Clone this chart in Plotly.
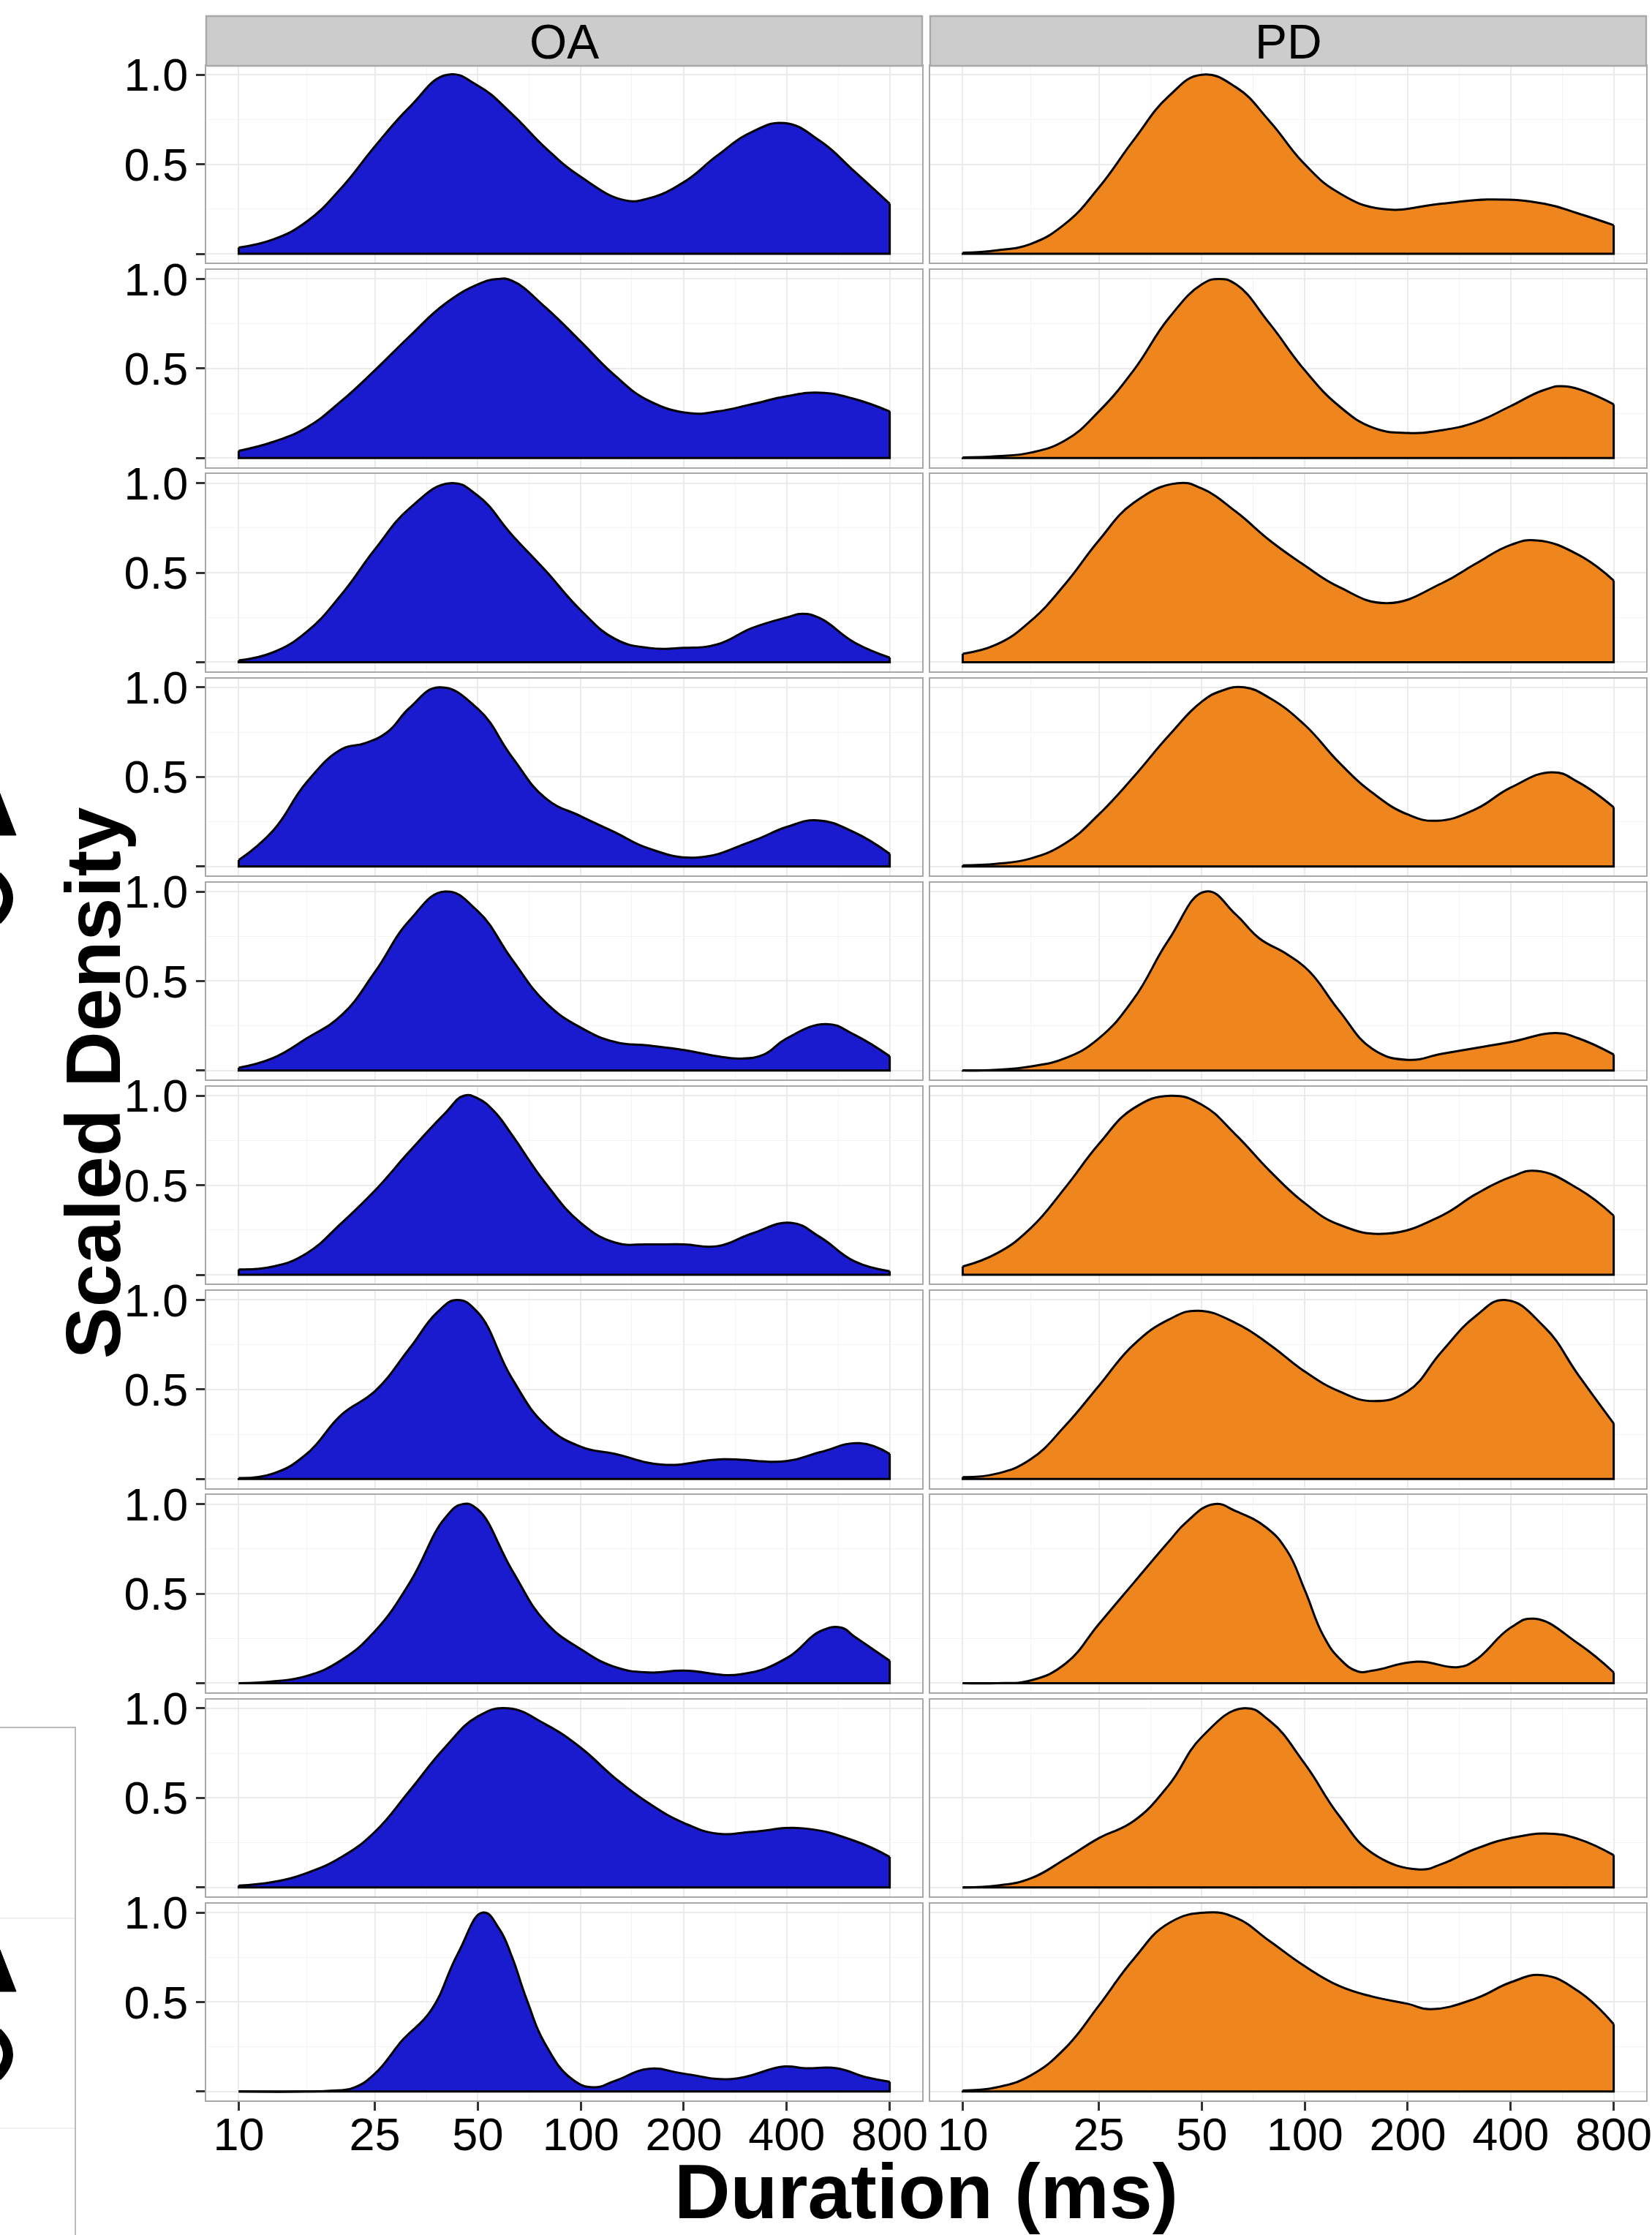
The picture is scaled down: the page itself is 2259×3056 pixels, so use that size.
import plotly.graph_objects as go
from plotly.subplots import make_subplots

W, H = 2259, 3056

# ---------------- data ----------------
groups = ["OA", "PD"]
x_ticks = [10, 25, 50, 100, 200, 400, 800]
x_ticktext = ["10", "25", "50", "100", "200", "400", "800"]
x_minor = [15.8, 35.4, 70.7, 141, 283, 566]
y_ticks = [0, 0.5, 1.0]
y_ticktext = ["", "0.5", "1.0"]
y_minor = [0.25, 0.75]

oa1_x = [10, 12.6, 15.8, 20, 25, 31.6, 40.7, 50, 63, 79, 100, 134, 158, 200, 251, 316, 394, 501, 631, 800]
oa1_y = [.035, .08, .18, .37, .60, .82, 1.0, .94, .78, .59, .43, .30, .31, .40, .55, .68, .73, .63, .46, .28]
oa2_x = [10, 12.6, 15.8, 20, 25, 31.6, 40, 50, 57.1, 63, 79, 100, 126, 158, 209, 251, 316, 400, 501, 631, 800]
oa2_y = [.04, .09, .17, .32, .49, .68, .86, .97, 1.0, .99, .84, .65, .46, .32, .25, .26, .30, .345, .365, .33, .26]
oa3_x = [10, 12.6, 15.8, 20, 25, 31.6, 41.5, 50, 63, 79, 100, 126, 158, 200, 251, 316, 400, 445, 501, 631, 800]
oa3_y = [.01, .055, .17, .38, .63, .86, 1.0, .93, .71, .51, .29, .13, .08, .08, .10, .19, .25, .27, .245, .11, .026]
oa4_x = [10, 12.6, 15.8, 20, 23.3, 27.2, 31.6, 38.5, 50, 63, 79, 100, 126, 158, 219, 316, 400, 492, 631, 800]
oa4_y = [.035, .20, .47, .655, .687, .75, .886, 1.0, .88, .61, .38, .28, .19, .10, .05, .14, .22, .257, .19, .07]
oa5_x = [10, 12.6, 15.8, 20, 25, 31.6, 40.1, 50, 63, 79, 100, 126, 158, 200, 251, 294, 343, 400, 522, 631, 800]
oa5_y = [.016, .07, .18, .31, .55, .84, 1.0, .89, .62, .38, .24, .16, .14, .115, .08, .067, .09, .18, .26, .20, .08]
oa6_x = [10, 12.6, 15.8, 20, 25, 31.6, 40, 45.5, 50, 56, 63, 79, 100, 126, 158, 200, 251, 316, 412, 501, 631, 800]
oa6_y = [.03, .046, .12, .29, .47, .69, .90, 1.0, .985, .91, .78, .51, .29, .18, .17, .17, .16, .23, .29, .21, .075, .02]
oa7_x = [10, 12.6, 15.8, 20, 25, 31.6, 38, 43.5, 50, 63, 79, 100, 126, 174, 260, 400, 501, 653, 800]
oa7_y = [.005, .03, .14, .36, .49, .73, .93, 1.0, .93, .56, .30, .18, .14, .08, .11, .10, .15, .20, .14]
oa8_x = [10, 12.6, 15.8, 20, 25, 31.6, 40, 45.1, 50, 63, 79, 100, 126, 158, 200, 294, 400, 501, 578, 631, 800]
oa8_y = [0, .01, .04, .13, .29, .56, .92, 1.0, .97, .63, .34, .19, .09, .06, .07, .05, .14, .29, .31, .26, .125]
oa9_x = [10, 12.6, 15.8, 20, 25, 31.6, 40, 50, 61.1, 79, 100, 126, 158, 200, 251, 316, 445, 631, 800]
oa9_y = [.01, .03, .08, .17, .31, .54, .78, .955, 1.0, .91, .78, .61, .47, .36, .30, .31, .33, .26, .17]
oa10_x = [10, 15.8, 18.5, 21.6, 25, 30.2, 36.4, 43.7, 51.8, 57.7, 63, 69.3, 79, 94.2, 109, 126, 158, 200, 276, 394, 452, 560, 682, 800]
oa10_y = [0, 0, .005, .02, .10, .29, .45, .77, 1.0, .91, .75, .52, .26, .07, .024, .06, .127, .10, .07, .14, .13, .13, .08, .055]

pd1_x = [10, 12.6, 15.8, 20, 25, 31.6, 40, 49.9, 63, 79, 100, 126, 169, 251, 353, 501, 631, 800]
pd1_y = [.006, .02, .055, .17, .37, .635, .88, 1.0, .93, .74, .50, .34, .25, .28, .304, .28, .225, .16]
pd2_x = [10, 12.6, 15.8, 20, 25, 31.6, 40, 50, 56.1, 63, 79, 100, 126, 158, 200, 251, 316, 400, 501, 578, 800]
pd2_y = [.003, .01, .03, .10, .26, .49, .78, .97, 1.0, .97, .75, .49, .29, .17, .14, .155, .20, .29, .38, .40, .30]
pd3_x = [10, 12.6, 15.8, 20, 25, 31.6, 42.4, 50, 63, 79, 100, 126, 174, 251, 316, 400, 478, 631, 800]
pd3_y = [.047, .10, .23, .44, .68, .89, 1.0, .97, .84, .68, .54, .42, .33, .44, .55, .655, .68, .60, .456]
pd4_x = [10, 12.6, 15.8, 20, 25, 31.6, 40, 50, 57, 66.5, 79, 100, 126, 158, 200, 244, 316, 400, 530, 631, 800]
pd4_y = [.006, .015, .044, .13, .29, .50, .73, .92, .98, 1.0, .94, .79, .58, .41, .29, .255, .32, .44, .526, .47, .33]
pd5_x = [10, 12.6, 15.8, 20, 25, 31.6, 40, 51.4, 63, 73.5, 88.7, 103, 126, 158, 200, 251, 316, 400, 543, 631, 800]
pd5_y = [.001, .005, .023, .07, .18, .40, .73, 1.0, .87, .74, .65, .555, .335, .12, .06, .093, .126, .16, .21, .18, .09]
pd6_x = [10, 12.6, 15.8, 20, 25, 31.6, 40.5, 50, 63, 79, 100, 126, 174, 251, 316, 400, 476, 631, 800]
pd6_y = [.046, .12, .26, .49, .73, .93, 1.0, .95, .78, .58, .40, .28, .23, .33, .45, .546, .58, .48, .33]
pd7_x = [10, 12.6, 15.8, 20, 25, 31.6, 40, 48.6, 63, 79, 100, 126, 159, 200, 251, 316, 385, 501, 631, 800]
pd7_y = [.01, .03, .11, .30, .52, .75, .89, .94, .87, .75, .60, .49, .435, .49, .71, .91, 1.0, .85, .58, .31]
pd8_x = [10, 12.6, 15.8, 20, 25, 31.6, 40, 45.1, 54.2, 63, 77.1, 88.7, 100, 113, 126, 143, 158, 213, 281, 316, 400, 469, 631, 800]
pd8_y = [0, 0, .015, .11, .33, .56, .79, .90, 1.0, .96, .87, .74, .52, .27, .14, .065, .07, .12, .09, .13, .31, .36, .22, .06]
pd9_x = [10, 12.6, 15.8, 20, 25, 31.6, 40, 50, 66.2, 79, 100, 126, 158, 216, 251, 316, 400, 519, 631, 800]
pd9_y = [0, .01, .05, .16, .275, .37, .57, .84, 1.0, .93, .69, .40, .19, .10, .13, .215, .275, .30, .27, .18]
pd10_x = [10, 12.6, 15.8, 20, 25, 31.6, 40, 51.8, 63, 79, 100, 126, 158, 200, 233, 316, 400, 496, 631, 800]
pd10_y = [.006, .024, .09, .245, .48, .74, .94, 1.0, .97, .84, .70, .59, .53, .49, .46, .52, .61, .65, .56, .376]

oa_x = [oa1_x, oa2_x, oa3_x, oa4_x, oa5_x, oa6_x, oa7_x, oa8_x, oa9_x, oa10_x]
oa_y = [oa1_y, oa2_y, oa3_y, oa4_y, oa5_y, oa6_y, oa7_y, oa8_y, oa9_y, oa10_y]
pd_x = [pd1_x, pd2_x, pd3_x, pd4_x, pd5_x, pd6_x, pd7_x, pd8_x, pd9_x, pd10_x]
pd_y = [pd1_y, pd2_y, pd3_y, pd4_y, pd5_y, pd6_y, pd7_y, pd8_y, pd9_y, pd10_y]

# ---------------- styling ----------------
fills = ["#1A1ACE", "#EF861D"]
FONT = "Liberation Sans, Arial, Helvetica, sans-serif"
GRID = "#EBEBEB"
MINOR = "#F4F4F4"
BORDER = "#A8A8A8"
NROWS = 10
TICK_SIZE = 63

col_px = [(282, 1261), (1272, 2251)]
row_top0, row_pitch, row_h = 90.0, 279.2, 269.3

fig = make_subplots(rows=NROWS, cols=2)

for c, (xs_all, ys_all) in enumerate([(oa_x, oa_y), (pd_x, pd_y)]):
    for r in range(NROWS):
        xs, ys = xs_all[r], ys_all[r]
        fig.add_trace(go.Scatter(x=xs, y=ys, mode="lines", fill="tozeroy",
                                 fillcolor=fills[c],
                                 line=dict(color="black", width=3, shape="spline", smoothing=1.3),
                                 showlegend=False), row=r + 1, col=c + 1)
        # outline of base and vertical ends
        fig.add_trace(go.Scatter(x=[xs[0], xs[0], xs[-1], xs[-1]], y=[ys[0], 0, 0, ys[-1]],
                                 mode="lines", line=dict(color="black", width=3),
                                 hoverinfo="skip", showlegend=False), row=r + 1, col=c + 1)

for c in range(2):
    for r in range(NROWS):
        idx = r * 2 + c + 1
        top = row_top0 + r * row_pitch
        bot = top + row_h
        xa = "xaxis" if idx == 1 else f"xaxis{idx}"
        ya = "yaxis" if idx == 1 else f"yaxis{idx}"
        last = (r == NROWS - 1)
        fig.layout[xa].update(
            domain=[col_px[c][0] / W, col_px[c][1] / W],
            type="log", range=[0.905, 2.998], automargin=False,
            tickmode="array", tickvals=x_ticks, ticktext=x_ticktext,
            showticklabels=last, ticks="outside" if last else "",
            ticklen=12, tickwidth=2.5, tickcolor="#333333",
            ticklabeloverflow="allow", ticklabelstandoff=-22,
            tickfont=dict(family=FONT, size=TICK_SIZE, color="black"),
            showgrid=True, gridcolor=GRID, gridwidth=1.6,
            minor=dict(tickmode="array", tickvals=x_minor, showgrid=True,
                       gridcolor=MINOR, gridwidth=1, ticks=""),
            zeroline=False, showline=True, mirror=True,
            linecolor=BORDER, linewidth=2.4,
        )
        fig.layout[ya].update(
            domain=[1 - bot / H, 1 - top / H],
            range=[-0.05, 1.05], automargin=False,
            tickmode="array", tickvals=y_ticks, ticktext=y_ticktext,
            showticklabels=(c == 0), ticks="outside" if c == 0 else "",
            ticklen=12, tickwidth=2.5, tickcolor="#333333",
            ticklabeloverflow="allow", ticklabelstandoff=-2,
            tickfont=dict(family=FONT, size=TICK_SIZE, color="black"),
            showgrid=True, gridcolor=GRID, gridwidth=1.6,
            minor=dict(tickmode="array", tickvals=y_minor, showgrid=True,
                       gridcolor=MINOR, gridwidth=1, ticks=""),
            zeroline=False, showline=True, mirror=True,
            linecolor=BORDER, linewidth=2.4,
        )

shapes = []
annotations = []
# facet strips
for c, g in enumerate(groups):
    x0, x1 = col_px[c][0] / W, col_px[c][1] / W
    shapes.append(dict(type="rect", xref="paper", yref="paper", x0=x0, x1=x1,
                       y0=1 - 90 / H, y1=1 - 22 / H, fillcolor="#CCCCCC",
                       line=dict(color=BORDER, width=2.4), layer="above"))
    annotations.append(dict(xref="paper", yref="paper", x=(x0 + x1) / 2, y=1 - 57 / H,
                            text=g, showarrow=False, xanchor="center", yanchor="middle",
                            font=dict(family=FONT, size=66, color="black")))

# axis titles
annotations.append(dict(xref="paper", yref="paper", x=(282 + 2251) / 2 / W, y=1 - 2996 / H,
                        text="<b>Duration (ms)</b>", showarrow=False,
                        xanchor="center", yanchor="middle",
                        font=dict(family=FONT, size=106, color="black")))
annotations.append(dict(xref="paper", yref="paper", x=127 / W, y=1 - 1481 / H,
                        text="<b>Scaled Density</b>", showarrow=False, textangle=-90,
                        xanchor="center", yanchor="middle",
                        font=dict(family=FONT, size=106, color="black")))


def px(x, y):
    return f"{x / W:.5f},{1 - y / H:.5f}"


# remnant of a neighbouring panel at the lower-left edge
shapes.append(dict(type="rect", xref="paper", yref="paper", x0=-10 / W, x1=103 / W,
                   y0=-0.01, y1=1 - 2362 / H, fillcolor="rgba(0,0,0,0)",
                   line=dict(color="#BBBBBB", width=2)))
for yy in (2623, 2910):
    shapes.append(dict(type="line", xref="paper", yref="paper", x0=0, x1=102 / W,
                       y0=1 - yy / H, y1=1 - yy / H, line=dict(color=GRID, width=1.6)))
# cut-off glyph fragments of neighbouring labels at the left edge
for off in (0, 1581):
    shapes.append(dict(type="path", xref="paper", yref="paper",
                       path=f"M {px(0, 1085 + off)} L {px(22, 1142 + off)} L {px(0, 1142 + off)} Z",
                       fillcolor="black", line=dict(color="black", width=1)))
    shapes.append(dict(type="path", xref="paper", yref="paper",
                       path=f"M {px(-4, 1198 + off)} Q {px(26, 1228 + off)} {px(-4, 1258 + off)}",
                       line=dict(color="black", width=14)))

fig.update_layout(
    width=W, height=H,
    margin=dict(l=0, r=0, t=0, b=0, autoexpand=False),
    paper_bgcolor="white", plot_bgcolor="white",
    shapes=shapes, annotations=annotations,
    showlegend=False,
)

fig.write_html("out.html")
